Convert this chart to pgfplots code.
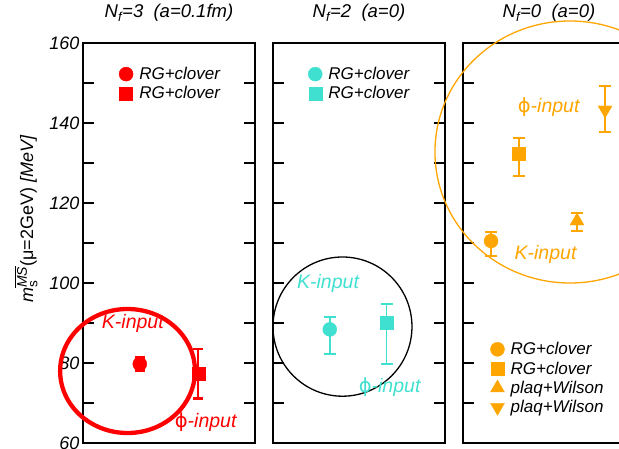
\documentclass[border=0pt]{standalone}
\usepackage{pgfplots}
\pgfplotsset{compat=1.18}
\usepackage{fontspec}
\setmainfont{Liberation Sans}
\newfontfamily\dejavu{DejaVu Sans}
\definecolor{tq}{HTML}{40E0D0}
\definecolor{org}{HTML}{FFA500}
\newcommand{\fs}{\fontsize{17}{20}\selectfont}
\newcommand{\fa}{\fontsize{19.5}{22}\selectfont}
\newcommand{\ft}{\fontsize{18.5}{22}\selectfont}
\newcommand{\phin}{{\dejavu ϕ}\textit{-input}}
\pgfplotsset{
  panel/.style={
    scale only axis, width=172pt, height=400pt,
    xmin=0, xmax=1, ymin=60, ymax=160,
    xtick=\empty,
    ytick={60,80,...,160}, minor ytick={70,90,...,150},
    tick align=inside,
    major tick length=11pt, minor tick length=11pt,
    axis line style={line width=2pt},
    every tick/.style={black, line width=1.6pt},
    clip=false,
    title style={at={(0.5,1)}, anchor=base, yshift=19pt, font=\itshape\ft},
    tick label style={font=\itshape\fontsize{18}{21}\selectfont},
    /pgf/number format/assume math mode=true,
    legend style={draw=none, fill=none, font=\itshape\fs, anchor=north west, row sep=1.5pt},
    legend cell align=left,
    legend image code/.code={\draw[##1] plot coordinates {(7pt,0pt)}; \path (0pt,0pt) (18pt,0pt);},
    error bars/y dir=both, error bars/y explicit,
  },
}
\begin{document}
\begin{tikzpicture}
\path[use as bounding box] (0pt,0pt) rectangle (619pt,448pt);
% Panel 1
\begin{axis}[panel, at={(83pt,5pt)}, anchor=south west,
  title={N\textsubscript{f}=3~~(a=0.1fm)},
  ylabel={$\mbox{\itshape m}_{\mbox{\fontsize{13.5}{15}\selectfont s}}^{\overline{\mbox{\itshape\fontsize{14}{15}\selectfont MS}}}$(μ=2GeV) \textit{[MeV]}},
  ylabel style={font=\fontsize{18}{21}\selectfont, at={(axis description cs:-0.33,0.56)}, anchor=center},
  legend style={at={(0.19,0.95)}}]
\addplot[only marks, mark=*, mark size=7pt, color=red,
  error bars/error bar style={line width=2.5pt},
  error bars/error mark options={rotate=90, mark size=5pt, line width=2.5pt}]
  coordinates {(0.33,79.75) +- (0,1.6)};
\addlegendentry{RG+clover}
\addplot[only marks, mark=square*, mark size=6.5pt, color=red,
  error bars/error bar style={line width=2.5pt},
  error bars/error mark options={rotate=90, mark size=5pt, line width=2.5pt}]
  coordinates {(0.67,77.3) +- (0,6.2)};
\addlegendentry{RG+clover}
\draw[red, line width=4.3pt] (axis cs:0.259,78) ellipse [x radius=0.392, y radius=15.5];
\node[red, font=\itshape\fa] at (axis cs:0.29,90) {K-input};
\node[red, font=\fa] at (axis cs:0.715,65.25) {\phin};
\end{axis}
% Panel 2
\begin{axis}[panel, at={(273pt,5pt)}, anchor=south west,
  title={N\textsubscript{f}=2~~(a=0)}, yticklabels={,,,,,,,},
  legend style={at={(0.185,0.95)}}]
\addplot[only marks, mark=*, mark size=7pt, color=tq,
  error bars/error bar style={line width=1.5pt},
  error bars/error mark options={rotate=90, mark size=6pt, line width=1.5pt}]
  coordinates {(0.33,88.4) += (0,3.1) -= (0,6.2)};
\addlegendentry{RG+clover}
\addplot[only marks, mark=square*, mark size=6.5pt, color=tq,
  error bars/error bar style={line width=1.5pt},
  error bars/error mark options={rotate=90, mark size=6pt, line width=1.5pt}]
  coordinates {(0.66,90) += (0,4.75) -= (0,10.25)};
\addlegendentry{RG+clover}
\draw[black, line width=1.3pt] (axis cs:0.404,89.1) ellipse [x radius=0.404, y radius=17.4];
\node[tq, font=\itshape\fa] at (axis cs:0.32,100) {K-input};
\node[tq, font=\fa] at (axis cs:0.68,74) {\phin};
\end{axis}
% Panel 3
\begin{axis}[panel, at={(463pt,5pt)}, anchor=south west,
  title={N\textsubscript{f}=0~~(a=0)}, yticklabels={,,,,,,,},
  legend style={at={(0.14,0.262)}}]
\addplot[only marks, mark=*, mark size=7pt, color=org,
  error bars/error bar style={line width=1.5pt},
  error bars/error mark options={rotate=90, mark size=6pt, line width=1.5pt}]
  coordinates {(0.163,110.5) += (0,2.25) -= (0,3.75)};
\addlegendentry{RG+clover}
\addplot[only marks, mark=square*, mark size=6.5pt, color=org,
  error bars/error bar style={line width=1.5pt},
  error bars/error mark options={rotate=90, mark size=6pt, line width=1.5pt}]
  coordinates {(0.326,132.25) += (0,4) -= (0,5.5)};
\addlegendentry{RG+clover}
\addplot[only marks, mark=triangle*, mark size=8pt, color=org,
  error bars/error bar style={line width=1.5pt},
  error bars/error mark options={rotate=90, mark size=6pt, line width=1.5pt}]
  coordinates {(0.663,115.5) += (0,2) -= (0,2.5)};
\addlegendentry{plaq+Wilson}
\addplot[only marks, mark=triangle*, mark size=8pt, mark options={rotate=180}, color=org,
  error bars/error bar style={line width=1.5pt},
  error bars/error mark options={rotate=90, mark size=6pt, line width=1.5pt}]
  coordinates {(0.826,143.25) += (0,6) -= (0,5.5)};
\addlegendentry{plaq+Wilson}
\draw[org, line width=1.3pt] (axis cs:0.622,132.75) ellipse [x radius=0.785, y radius=32.75];
\node[org, font=\itshape\fa] at (axis cs:0.48,107.25) {K-input};
\node[org, font=\fa] at (axis cs:0.5,144) {\phin};
\end{axis}
\end{tikzpicture}
\end{document}
